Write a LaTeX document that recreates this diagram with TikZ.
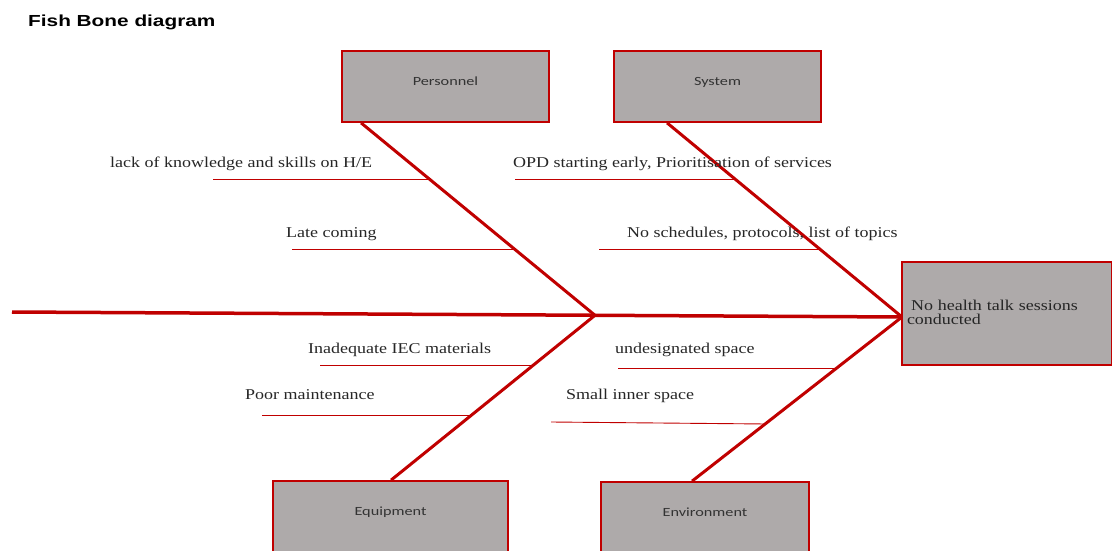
\documentclass[tikz,border=0pt]{standalone}
\usepackage{fontspec}
\usetikzlibrary{calc}
\setmainfont{Liberation Serif}[FakeStretch=1.2]
\newfontfamily\boxfont{Carlito}[FakeStretch=1.3]
\newfontfamily\titlefont{Liberation Sans}[FakeStretch=1.3]
\definecolor{bone}{HTML}{C00000}
\definecolor{boxfill}{HTML}{AEAAAA}
\begin{document}
\begin{tikzpicture}[x=1pt,y=-1pt,
  catbox/.style={draw=bone, line width=1.8pt, fill=boxfill, inner sep=0pt,
    minimum height=71pt, text height=8pt, text depth=10pt,
    font=\boxfont\fontsize{12.5}{14}\selectfont, text=black!80},
  headbox/.style={draw=bone, line width=1.8pt, fill=boxfill, inner sep=0pt,
    minimum width=210pt, minimum height=103pt, text width=200pt, align=left,
    font=\fontsize{15}{14}\selectfont, text=black!85},
  bonel/.style={draw=bone, line width=3pt},
  spinel/.style={draw=bone, line width=3.5pt},
  twig/.style={draw=bone, line width=0.9pt},
  cause/.style={anchor=base west, inner sep=0pt, font=\fontsize{15}{16}\selectfont, text=black!85}
]
\useasboundingbox (0,0) rectangle (1112,551);

% title
\node[anchor=base west, inner sep=0pt, font=\titlefont\bfseries\fontsize{16}{18}\selectfont] (title) at (28,27) {Fish Bone diagram};

% category boxes
\node[catbox, minimum width=207pt] (pers) at (445.5,86.5) {Personnel};
\node[catbox, minimum width=207pt] (sys) at (717.5,86.5) {System};
\node[catbox, minimum width=235pt] (equip) at (390.5,516.5) {Equipment};
\node[catbox, minimum width=208pt] (env) at (705,517.5) {Environment};

% head
\node[headbox, text height=10pt, text depth=17pt] (head) at (1007,313.5) {\hspace*{4pt}No health talk sessions\\conducted};

% spine
\coordinate (tail) at (12,312);
\coordinate (hp) at (902,317);
\coordinate (j1) at (595,315.3);
\draw[spinel] (tail) -- (hp);

% main bones
\draw[bonel] ($(pers.south west)+(20,0)$) -- (j1);
\draw[bonel] ($(sys.south west)+(54,0)$) -- (hp);
\draw[bonel] ($(equip.north west)+(119,0)$) -- (j1);
\draw[bonel] ($(env.north west)+(92,0)$) -- (hp);

% causes: text
\node[cause] (c1) at (110,167) {lack of knowledge and skills on H/E};
\node[cause] (c2) at (286,237) {Late coming};
\node[cause] (c3) at (513,167) {OPD starting early, Prioritisation of services};
\node[cause] (c4) at (627,237) {No schedules, protocols, list of topics};
\node[cause] (c5) at (308,353) {Inadequate IEC materials};
\node[cause] (c6) at (245,399) {Poor maintenance};
\node[cause] (c7) at (615,353) {undesignated space};
\node[cause] (c8) at (566,399) {Small inner space};

% causes: twigs
\coordinate (t1a) at (213,179); \coordinate (t1b) at (431,179);
\coordinate (t2a) at (292,249); \coordinate (t2b) at (514,249);
\coordinate (t3a) at (515,179); \coordinate (t3b) at (734,179);
\coordinate (t4a) at (599,249); \coordinate (t4b) at (819,249);
\coordinate (t5a) at (320,365); \coordinate (t5b) at (534,365);
\coordinate (t6a) at (262,415.5); \coordinate (t6b) at (471,415.5);
\coordinate (t7a) at (618,368); \coordinate (t7b) at (836,368);
\coordinate (t8a) at (551,422); \coordinate (t8b) at (766,424);
\draw[twig] (t1a) -- (t1b);
\draw[twig] (t2a) -- (t2b);
\draw[twig] (t3a) -- (t3b);
\draw[twig] (t4a) -- (t4b);
\draw[twig] (t5a) -- (t5b);
\draw[twig] (t6a) -- (t6b);
\draw[twig] (t7a) -- (t7b);
\draw[twig] (t8a) -- (t8b);
\end{tikzpicture}
\end{document}
